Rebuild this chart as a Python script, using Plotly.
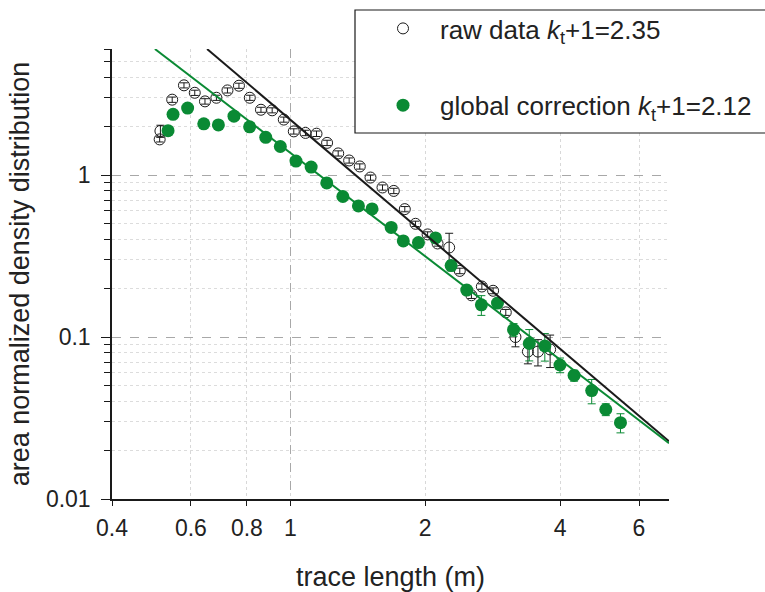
import plotly.graph_objects as go
import math

# ---- data ----
raw_x = [0.511, 0.513, 0.545, 0.579, 0.612, 0.645, 0.684, 0.724, 0.768, 0.812, 0.860, 0.911,
         0.967, 1.018, 1.081, 1.144, 1.208, 1.279, 1.353, 1.429, 1.510, 1.606, 1.702, 1.801,
         1.903, 2.025, 2.131, 2.262, 2.389, 2.536, 2.676, 2.835, 3.026, 3.18, 3.39, 3.57, 3.80]
raw_y = [1.66, 1.87, 2.92, 3.58, 3.22, 2.85, 3.00, 3.33, 3.56, 3.00, 2.53, 2.51,
         2.20, 1.86, 1.82, 1.80, 1.58, 1.36, 1.23, 1.13, 0.965, 0.838, 0.798, 0.616,
         0.50, 0.43, 0.378, 0.357, 0.256, 0.181, 0.205, 0.193, 0.142, 0.100, 0.0813, 0.0813, 0.0838]
raw_err = [0.06, 0.16, 0.11, 0.13, 0.12, 0.11, 0.11, 0.12, 0.13, 0.11, 0.09, 0.09,
           0.08, 0.07, 0.07, 0.07, 0.06, 0.05, 0.045, 0.042, 0.036, 0.031, 0.03, 0.023,
           0.019, 0.016, 0.014, 0.08, 0.01, 0.008, 0.008, 0.008, 0.006, 0.013, 0.013, 0.015, 0.019]

green_x = [0.5335, 0.5474, 0.590, 0.641, 0.691, 0.7486, 0.8113, 0.8814, 0.950, 1.0295, 1.113,
           1.206, 1.310, 1.419, 1.522, 1.679, 1.787, 1.932, 2.109, 2.285, 2.476, 2.669, 2.900,
           3.149, 3.414, 3.698, 3.998, 4.298, 4.705, 5.059, 5.455]
green_y = [1.88, 2.37, 2.59, 2.07, 2.04, 2.31, 1.985, 1.71, 1.50, 1.22, 1.12,
           0.894, 0.737, 0.645, 0.6175, 0.475, 0.392, 0.383, 0.409, 0.276, 0.195, 0.158, 0.162,
           0.111, 0.0912, 0.088, 0.0672, 0.0579, 0.0467, 0.0357, 0.0296]
green_err = [0.05, 0.06, 0.06, 0.05, 0.05, 0.06, 0.05, 0.04, 0.04, 0.03, 0.03,
             0.02, 0.02, 0.015, 0.015, 0.012, 0.01, 0.01, 0.01, 0.02, 0.01, 0.022, 0.01,
             0.01, 0.02, 0.017, 0.007, 0.0045, 0.008, 0.003, 0.004]

# fitted power-law lines (end points)
raw_fit_x = [0.652, 7.0]
raw_fit_y = [6.0, 0.0227]
green_fit_x = [0.4987, 7.0]
green_fit_y = [6.0, 0.0221]

x_tickvals = [0.4, 0.6, 0.8, 1, 2, 4, 6]
x_ticktext = ["0.4", "0.6", "0.8", "1", "2", "4", "6"]
y_tickvals = [0.01, 0.1, 1]
y_ticktext = ["0.01", "0.1", "1"]
y_minor = [m * d for d in (0.01, 0.1, 1) for m in range(2, 10) if m * d <= 6]

GREEN = "#0a8a34"
BLACK = "#1a1a1a"
FONT = "Liberation Sans, Arial, sans-serif"

# plot-area pixel geometry (for paper-coordinate conversions)
PL, PR, PT, PB = 112, 669, 49, 499
def px_x(p):
    return (p - PL) / (PR - PL)
def px_y(p):
    return (PB - p) / (PB - PT)

fig = go.Figure()

fig.add_trace(go.Scatter(
    x=raw_x, y=raw_y, mode="markers",
    name="raw data <i>k</i><sub>t</sub>+1=2.35", legendgroup="a",
    marker=dict(symbol="circle-open", size=11, color=BLACK, line=dict(width=1, color=BLACK)),
    error_y=dict(type="data", array=raw_err, color=BLACK, thickness=1, width=4),
))
fig.add_trace(go.Scatter(
    x=green_x, y=green_y, mode="markers",
    name="global correction <i>k</i><sub>t</sub>+1=2.12", legendgroup="b",
    marker=dict(symbol="circle", size=13, color=GREEN),
    error_y=dict(type="data", array=green_err, color=GREEN, thickness=1, width=4),
))
fig.add_trace(go.Scatter(x=raw_fit_x, y=raw_fit_y, mode="lines", showlegend=False,
                         line=dict(color=BLACK, width=2), cliponaxis=True))
fig.add_trace(go.Scatter(x=green_fit_x, y=green_fit_y, mode="lines", showlegend=False,
                         line=dict(color=GREEN, width=2), cliponaxis=True))
# invisible trace on overlay axis to activate it
fig.add_trace(go.Scatter(x=[1], y=[1], xaxis="x2", mode="markers", showlegend=False,
                         marker=dict(opacity=0), hoverinfo="skip"))

xr = [math.log10(0.4), math.log10(7.0)]
yr = [-2, math.log10(6.0)]

fig.update_layout(
    width=765, height=592,
    margin=dict(l=PL, r=765 - PR, t=PT, b=592 - PB, autoexpand=False),
    paper_bgcolor="white", plot_bgcolor="white",
    font=dict(family=FONT, color="#222", size=23),
    xaxis=dict(
        type="log", range=xr, tickmode="array", tickvals=x_tickvals, ticktext=x_ticktext,
        showline=True, linecolor=BLACK, linewidth=1.5, ticks="outside", ticklen=5,
        tickcolor=BLACK, tickwidth=1.2, ticklabelstandoff=3,
        showgrid=True, gridcolor="#d8d8d8", griddash="dot", gridwidth=1,
        zeroline=False, tickfont=dict(size=23),
        title=dict(text="trace length (m)", font=dict(size=27), standoff=32),
    ),
    xaxis2=dict(
        type="log", range=xr, overlaying="x", side="bottom", tickmode="array", tickvals=[1],
        showticklabels=False, ticks="", showline=False, showgrid=True,
        gridcolor="#a8a8a8", griddash="dash", gridwidth=1, zeroline=False,
    ),
    yaxis=dict(
        type="log", range=yr, tickmode="array", tickvals=y_tickvals, ticktext=y_ticktext,
        showline=True, linecolor=BLACK, linewidth=1.5, ticks="outside", ticklen=9,
        tickcolor=BLACK, tickwidth=1.2, ticklabelstandoff=6,
        showgrid=True, gridcolor="#a8a8a8", griddash="dash", gridwidth=1,
        zeroline=False, tickfont=dict(size=23),
        minor=dict(tickmode="array", tickvals=y_minor, ticks="outside", ticklen=6,
                   tickcolor=BLACK, showgrid=True, gridcolor="#dcdcdc", griddash="dot", gridwidth=1),
        title=dict(text="area normalized density distribution", font=dict(size=27), standoff=8),
    ),
    legend=dict(
        x=px_x(366), y=px_y(5), xanchor="left", yanchor="top",
        borderwidth=0, bgcolor="rgba(0,0,0,0)",
        font=dict(size=26, family=FONT, color="#222"),
        itemwidth=64, tracegroupgap=40,
    ),
    shapes=[dict(type="rect", xref="paper", yref="paper",
                 x0=px_x(355), x1=px_x(800), y0=px_y(133), y1=px_y(10),
                 line=dict(color=BLACK, width=1.2), fillcolor="white", layer="above")],
    showlegend=True,
)

fig.write_html("out.html")
